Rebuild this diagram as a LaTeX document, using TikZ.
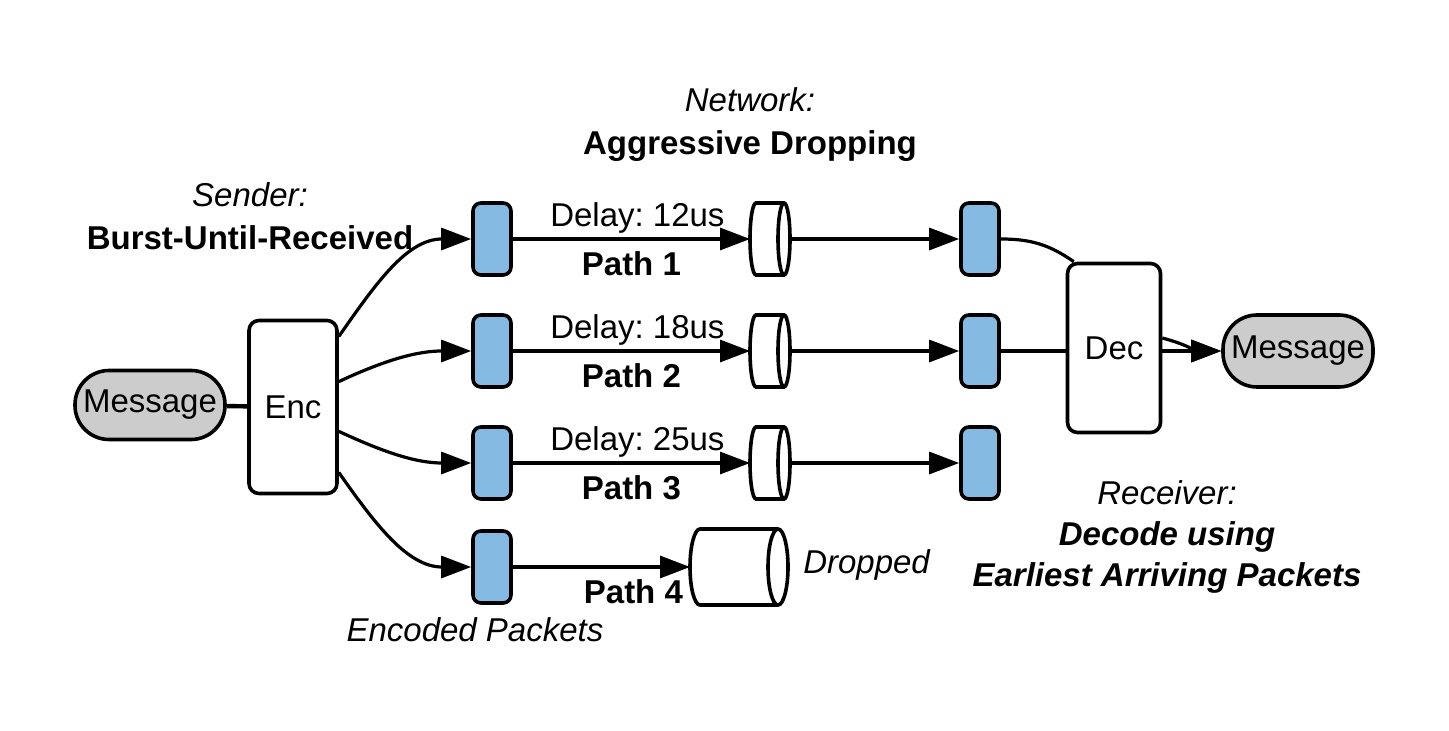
\documentclass[tikz,border=0pt]{standalone}
\usepackage{fontspec}
\setmainfont{Liberation Sans}
\usetikzlibrary{positioning,arrows.meta}

\definecolor{pktblue}{RGB}{133,187,227}
\definecolor{msggray}{RGB}{204,204,204}

\tikzset{
  packet/.style={draw, line width=1.8pt, fill=pktblue, rounded corners=4pt,
    minimum width=19pt, minimum height=36pt, inner sep=0pt},
  block/.style={draw, line width=1.8pt, fill=white, rounded corners=5pt,
    minimum width=44pt, minimum height=86.5pt},
  msg/.style={draw, line width=1.8pt, fill=msggray, rounded corners=17pt,
    minimum width=75pt, minimum height=34.5pt, inner sep=0pt},
  pipe/.style={minimum width=20pt, minimum height=36pt, inner sep=0pt, outer sep=0pt},
  pipeline/.style={draw, line width=1.8pt, fill=white},
  link/.style={line width=1.6pt, -{Triangle[length=15pt,width=11pt]}},
  delay/.style={anchor=south, inner sep=0pt, yshift=2pt, xshift=3pt},
  pathname/.style={anchor=north, inner sep=0pt, yshift=-5.5pt}
}

\begin{document}
\frenchspacing
\begin{tikzpicture}[x=0.5pt, y=-0.5pt, on grid,
    font=\fontsize{16.5}{21.5}\selectfont]

    \useasboundingbox (0,0) rectangle (1449,731);

    \node[msg] (msgin) at (150,405) {Message};
    \node[block] (enc) at (293,407) {Enc};

    \node[packet] (p1) at (492,239) {};
    \node[packet] (p2) [below=56pt of p1] {};
    \node[packet] (p3) [below=56pt of p2] {};
    \node[packet] (p4) [below=52pt of p3] {};

    \node[pipe] (c1) [right=139pt of p1] {};
    \node[pipe] (c2) [right=139pt of p2] {};
    \node[pipe] (c3) [right=139pt of p3] {};
    \node[pipe, minimum width=49pt, minimum height=38pt] (c4) [right=123.5pt of p4] {};

    % cylinder outlines
    \foreach \c/\r/\h in {c1/3pt/18pt, c2/3pt/18pt, c3/3pt/18pt, c4/5pt/19pt} {
        \draw[pipeline] ([xshift=\r]\c.north west)
            arc[start angle=90, end angle=270, x radius=\r, y radius=\h]
            -- ([xshift=-\r]\c.south east)
            arc[start angle=-90, end angle=90, x radius=\r, y radius=\h] -- cycle;
        \draw[line width=1.8pt] ([xshift=-\r]\c.north east)
            arc[start angle=90, end angle=270, x radius=\r, y radius=\h];
    }

    \node[packet] (q1) [right=105pt of c1] {};
    \node[packet] (q2) [right=105pt of c2] {};
    \node[packet] (q3) [right=105pt of c3] {};

    \node[block, minimum width=46.5pt, minimum height=84.5pt] (dec) at (1114,348) {Dec};
    \node[msg, minimum height=36pt] (msgout) at (1298,351) {Message};

    % captions
    \node[align=center] (net) at (750,125) {\textit{Network:}\\\textbf{Aggressive Dropping}};
    \node[align=center] (snd) at (250,216) {\textit{Sender:}\\\textbf{Burst-Until-Received}};
    \node[align=center, font=\fontsize{16.5}{20.5}\selectfont] (rcv) at (1167,537)
        {\textit{Receiver:}\\\textbf{\textit{Decode using}}\\\textbf{\textit{Earliest Arriving Packets}}};
    \node (drop) [right=64pt of c4, yshift=1pt] {\textit{Dropped}};
    \node (enclbl) [below=31.5pt of p4, xshift=-8.5pt] {\textit{Encoded Packets}};

    \draw[line width=2.2pt] (msgin) -- (enc);

    \draw[link] (enc.57) to[out=55,in=180] (p1.west);
    \draw[link] (enc.29) to[out=25,in=180] (p2.west);
    \draw[link] (enc.-28) to[out=-25,in=180] (p3.west);
    \draw[link] (enc.-55) to[out=-55,in=180] (p4.west);

    \draw[link] (p1.east) -- node[delay] {Delay: 12us} node[pathname] {\textbf{Path 1}} (c1.west);
    \draw[link] (p2.east) -- node[delay] {Delay: 18us} node[pathname] {\textbf{Path 2}} (c2.west);
    \draw[link] (p3.east) -- node[delay] {Delay: 25us} node[pathname] {\textbf{Path 3}} (c3.west);
    \draw[link] (p4.east) -- node[pathname, xshift=16pt] {\textbf{Path 4}} (c4.west);

    \draw[link] (c1.east) -- (q1.west);
    \draw[link] (c2.east) -- (q2.west);
    \draw[link] (c3.east) -- (q3.west);

    \draw[line width=1.6pt] (q1.east) to[out=0,in=145] (dec.115);
    \draw[line width=1.6pt] (q2.east) -- (q2.east -| dec.west);

    \draw[link] ([yshift=5pt]dec.east) to[out=-15,in=180] (msgout.west);
    \draw[link] (dec.east |- msgout.west) -- (msgout.west);

\end{tikzpicture}
\end{document}
